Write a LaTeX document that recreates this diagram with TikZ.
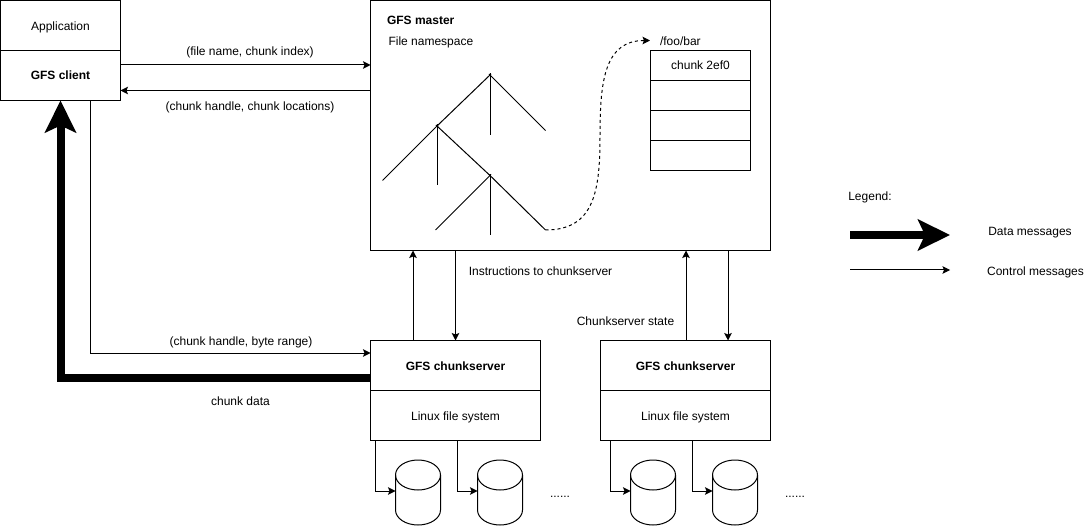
\documentclass[tikz,border=0pt]{standalone}
\usepackage{fontspec}
\setmainfont{Liberation Sans}
\usetikzlibrary{arrows.meta}
\tikzset{
  box/.style={draw=black,line width=1pt,fill=white,inner sep=0pt,outer sep=0pt,anchor=north west,align=center,text height=10pt,text depth=1pt,font=\fontsize{12}{14}\selectfont},
  wide/.style={box,minimum width=120pt,minimum height=50pt},
  half/.style={box,minimum width=170pt,minimum height=50pt},
  rowbox/.style={box,minimum width=100pt,minimum height=30pt},
  masterbox/.style={box,minimum width=400pt,minimum height=250pt},
  disk/.style={inner sep=0pt,outer sep=0pt,minimum width=45pt,minimum height=65pt},
  diskline/.style={draw=black,line width=1pt,fill=white},
  lbl/.style={inner sep=0pt,outer sep=0pt,text height=10pt,text depth=1pt,font=\fontsize{12}{14}\selectfont},
  ctrl/.style={draw=black,line width=1pt,-{Stealth[length=7.5pt,width=7.5pt,inset=1.5pt]}},
  data/.style={draw=black,line width=8pt,-{Stealth[length=32pt,width=31pt,inset=7pt]}},
  branch/.style={draw=black,line width=1pt,shorten <=-1.5pt},
  link/.style={draw=black,line width=1pt,dash pattern=on 3pt off 3pt,-{Stealth[length=7.5pt,width=7.5pt,inset=1.5pt]}}
}
\newcommand{\drawdisk}[1]{%
  \draw[diskline] ([yshift=-15pt]#1.north west) arc[start angle=180,end angle=0,x radius=22.5pt,y radius=15pt]
    -- ([yshift=15pt]#1.south east) arc[start angle=0,end angle=-180,x radius=22.5pt,y radius=15pt] -- cycle;
  \draw[diskline,fill=none] ([yshift=-15pt]#1.north west) arc[start angle=180,end angle=360,x radius=22.5pt,y radius=15pt];
}
\begin{document}
\begin{tikzpicture}[x=1pt,y=-1pt]
\useasboundingbox (0,0) rectangle (1091,526);
% client
\node[wide,text height=11pt,text depth=0pt] (app) at (0.5,0.5) {Application};
\node[wide] (client) at (0.5,50.5) {\textbf{GFS client}};
% master
\node[masterbox] (master) at (370.5,0.5) {};
\node[lbl,anchor=west] (mastertitle) at (387,20.5) {\textbf{GFS master}};
\node[lbl,anchor=west] (namespace) at (388.5,41.5) {File namespace};
\node[lbl,anchor=west] (foobar) at (660,41.5) {/foo/bar};
\node[rowbox] (r1) at (650.5,50.5) {chunk 2ef0};
\node[rowbox] (r2) at (650.5,80.5) {};
\node[rowbox] (r3) at (650.5,110.5) {};
\node[rowbox] (r4) at (650.5,140.5) {};
% tree
\coordinate (t1) at (490,75);
\coordinate (t2) at (437,126);
\coordinate (t3) at (490,175.5);
\coordinate (t1m) at (490,135.5);
\coordinate (t1r) at (545.5,130.5);
\coordinate (t2l) at (382.5,180.5);
\coordinate (t2m) at (437,185.5);
\coordinate (t3l) at (435.5,230);
\coordinate (t3m) at (490,235.5);
\coordinate (t3r) at (545.5,230);
\draw[branch] (t1) -- (t2);
\draw[branch] (t1) -- (t1m);
\draw[branch] (t1) -- (t1r);
\draw[branch] (t2) -- (t2l);
\draw[branch] (t2) -- (t2m);
\draw[branch] (t2) -- (t3);
\draw[branch] (t3) -- (t3l);
\draw[branch] (t3) -- (t3m);
\draw[branch] (t3) -- (t3r);
\draw[link] (t3r) .. controls (595,230) and (600,190) .. (600,135) .. controls (600,80) and (605,40.5) .. ([xshift=-10pt,yshift=1pt]foobar.west);
% chunkservers
\node[half] (cs1) at (370.5,340.5) {\textbf{GFS chunkserver}};
\node[half] (fs1) at (370.5,390.5) {Linux file system};
\node[half] (cs2) at (600.5,340.5) {\textbf{GFS chunkserver}};
\node[half] (fs2) at (600.5,390.5) {Linux file system};
% disks
\node[disk] (d1) at (418,492.5) {};
\node[disk] (d2) at (500,492.5) {};
\node[disk] (d3) at (653,492.5) {};
\node[disk] (d4) at (735,492.5) {};
\drawdisk{d1}\drawdisk{d2}\drawdisk{d3}\drawdisk{d4}
\draw[ctrl] ([xshift=5pt]fs1.south west) |- ([yshift=1.5pt]d1.west);
\draw[ctrl] ([xshift=87pt]fs1.south west) |- ([yshift=1.5pt]d2.west);
\draw[ctrl] ([xshift=10pt]fs2.south west) |- ([yshift=1.5pt]d3.west);
\draw[ctrl] ([xshift=92pt]fs2.south west) |- ([yshift=1.5pt]d4.west);
\node[lbl] (dots1) at (560,493) {......};
\node[lbl] (dots2) at (795,493) {......};
% control arrows
\coordinate (c1) at ([yshift=-14.5pt]client.north east);
\draw[ctrl] (c1) -- (c1 -| master.west);
\coordinate (c2) at ([yshift=-40pt]client.north east);
\draw[ctrl] (c2 -| master.west) -- (c2);
\coordinate (c3) at (90.5,353);
\draw[ctrl] (c3 |- client.south) |- (c3 -| cs1.west);
\coordinate (c4) at (60.5,378);
\draw[data] (c4 -| cs1.west) -| (c4 |- client.south);
\coordinate (c5) at (413,300);
\coordinate (c6) at (455.5,300);
\coordinate (c7) at (686,300);
\coordinate (c8) at (728,300);
\draw[ctrl] (c5 |- cs1.north) -- (c5 |- master.south);
\draw[ctrl] (c6 |- master.south) -- (c6 |- cs1.north);
\draw[ctrl] (c7 |- cs2.north) -- (c7 |- master.south);
\draw[ctrl] (c8 |- master.south) -- (c8 |- cs2.north);
% labels
\node[lbl] (l1) at (250,51.5) {(file name, chunk index)};
\node[lbl] (l2) at (250,106) {(chunk handle, chunk locations)};
\node[lbl] (l3) at (241,340.5) {(chunk handle, byte range)};
\node[lbl] (l4) at (240.5,400.5) {chunk data};
\node[lbl] (l5) at (540.5,271.5) {Instructions to chunkserver};
\node[lbl] (l6) at (625.5,320.5) {Chunkserver state};
% legend
\node[lbl] (leg) at (870,196.5) {Legend:};
\coordinate (la) at (850,235);
\coordinate (lb) at (950,235);
\coordinate (lc) at (850,270);
\coordinate (ld) at (950,270);
\draw[data] (la) -- (lb);
\draw[ctrl] (lc) -- (ld);
\node[lbl] (ldata) at (1030,231) {Data messages};
\node[lbl] (lctrl) at (1035.5,271) {Control messages};
\end{tikzpicture}
\end{document}
